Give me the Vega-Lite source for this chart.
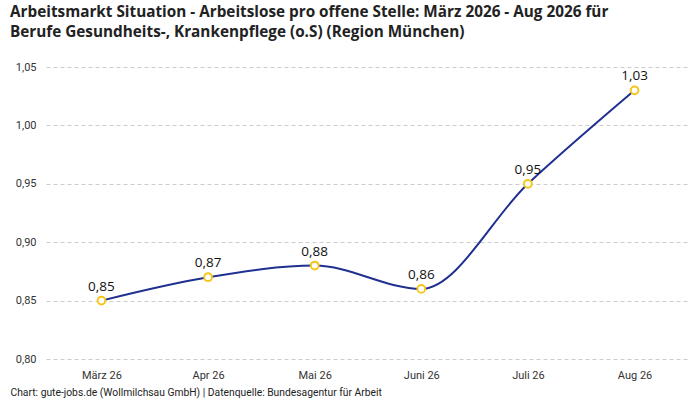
{
  "$schema": "https://vega.github.io/schema/vega-lite/v6.json",
  "width": 700,
  "height": 400,
  "autosize": {"type": "fit", "contains": "padding"},
  "padding": {"left": 10, "right": 10, "top": 4, "bottom": 2},
  "config": {
    "locale": {"number": {"decimal": ",", "thousands": ".", "grouping": [3], "currency": ["", " €"]}},
    "font": "Roboto",
    "view": {"stroke": null}
  },
  "title": {
    "text": ["Arbeitsmarkt Situation - Arbeitslose pro offene Stelle: März 2026 - Aug 2026 für", "Berufe Gesundheits-, Krankenpflege (o.S) (Region München)"],
    "anchor": "start",
    "font": "Open Sans",
    "fontSize": 15.3,
    "fontWeight": "bold",
    "color": "#222222",
    "lineHeight": 20,
    "offset": 21,
    "dx": 0
  },
  "data": {
    "values": [
      {"monat": "März 26", "wert": 0.85},
      {"monat": "Apr 26", "wert": 0.87},
      {"monat": "Mai 26", "wert": 0.88},
      {"monat": "Juni 26", "wert": 0.86},
      {"monat": "Juli 26", "wert": 0.95},
      {"monat": "Aug 26", "wert": 1.03}
    ]
  },
  "encoding": {
    "x": {
      "field": "monat",
      "type": "ordinal",
      "sort": null,
      "scale": {"type": "point", "padding": 0.52},
      "axis": {
        "title": "Chart: gute-jobs.de (Wollmilchsau GmbH) | Datenquelle: Bundesagentur für Arbeit",
        "titleAnchor": "start",
        "titleAlign": "left",
        "titleX": -36,
        "titleY": 28,
        "titleFontSize": 10.3,
        "titleFontWeight": "normal",
        "titleColor": "#222222",
        "labelAngle": 0,
        "labelFontSize": 11,
        "labelColor": "#333333",
        "labelPadding": 10,
        "domain": false,
        "ticks": false,
        "grid": false
      }
    },
    "y": {
      "field": "wert",
      "type": "quantitative",
      "scale": {"domain": [0.8, 1.05], "zero": false, "nice": false},
      "axis": {
        "title": null,
        "values": [0.8, 0.85, 0.9, 0.95, 1.0, 1.05],
        "format": ".2f",
        "labelFontSize": 11,
        "labelColor": "#333333",
        "labelPadding": 10,
        "domain": false,
        "ticks": false,
        "gridColor": "#cccccc",
        "gridDash": [4, 3],
        "gridWidth": 1
      }
    }
  },
  "layer": [
    {
      "mark": {"type": "line", "interpolate": "monotone", "color": "#1f3090", "strokeWidth": 2}
    },
    {
      "mark": {"type": "point", "filled": true, "fill": "white", "stroke": "#f5c518", "strokeWidth": 2, "size": 60, "opacity": 1}
    },
    {
      "mark": {"type": "text", "dy": -14, "font": "Open Sans", "fontSize": 13.5, "color": "#111111", "fontWeight": "normal"},
      "encoding": {"text": {"field": "wert", "type": "quantitative", "format": ".2f"}}
    }
  ]
}
